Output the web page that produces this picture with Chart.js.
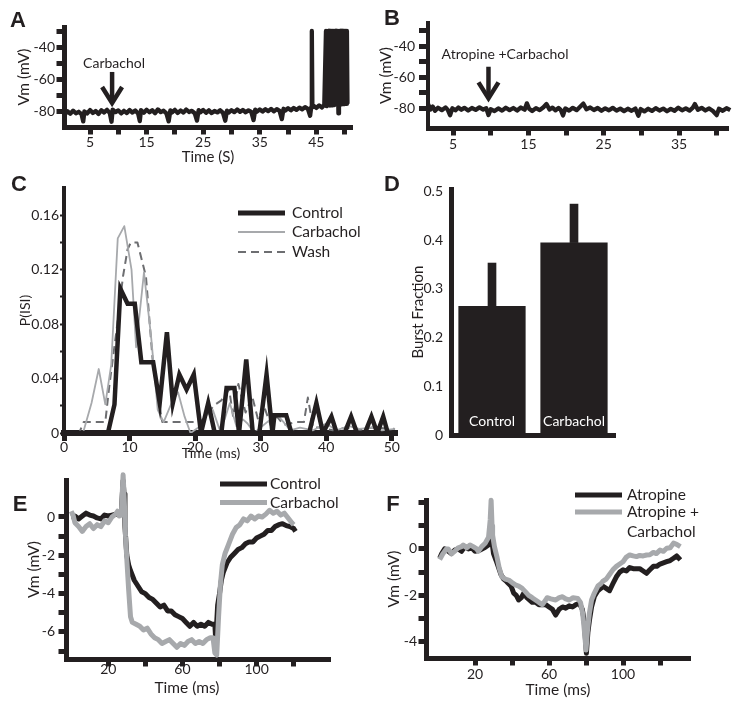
<!DOCTYPE html>
<html><head><meta charset="utf-8">
<script src="https://cdn.jsdelivr.net/npm/chart.js@4.4.1/dist/chart.umd.min.js"></script>
<style>
html,body{margin:0;padding:0;background:#fff;}
body{width:749px;height:707px;position:relative;overflow:hidden;}
canvas{position:absolute;left:0;top:0;}
.pl{position:absolute;font:bold 22px "Liberation Sans",Arial,sans-serif;line-height:1;transform:translate(-50%,-50%);color:#231f20;}
.tt{position:absolute;font-family:Lato,sans-serif;line-height:1;transform:translate(-50%,-50%);color:#231f20;white-space:nowrap;}
</style></head>
<body>
<canvas id="cA" width="749" height="707"></canvas>
<canvas id="cB" width="749" height="707"></canvas>
<canvas id="cC" width="749" height="707"></canvas>
<canvas id="cD" width="749" height="707"></canvas>
<canvas id="cE" width="749" height="707"></canvas>
<canvas id="cF" width="749" height="707"></canvas>
<div class="pl" style="left:18px;top:20px">A</div>
<div class="pl" style="left:392px;top:18px">B</div>
<div class="pl" style="left:19px;top:184px">C</div>
<div class="pl" style="left:392px;top:184px">D</div>
<div class="pl" style="left:20px;top:504px">E</div>
<div class="pl" style="left:393px;top:504px">F</div>
<div class="tt" style="left:211px;top:453px;font-size:14px">Time (ms)</div>
<div class="tt" style="left:187px;top:688px;font-size:15.5px">Time (ms)</div>
<script>
// ---------------- DATA ----------------
// Panel A: membrane potential trace (s, mV)
const aTime = [0.0,0.5,1.0,1.5,2.0,2.5,3.0,3.5,3.8,4.0,4.5,5.0,5.5,6.0,6.5,7.0,7.5,8.0,8.5,8.8,9.0,9.5,10.0,10.5,11.0,11.5,12.0,12.5,13.0,13.5,13.8,14.0,14.5,15.0,15.5,16.0,16.5,17.0,17.5,18.0,18.5,18.9,19.2,19.5,20.0,20.5,21.0,21.5,22.0,22.5,23.0,23.5,23.9,24.2,24.5,25.0,25.5,26.0,26.5,27.0,27.5,28.0,28.5,28.9,29.2,29.5,30.0,30.5,31.0,31.5,32.0,32.5,33.0,33.5,33.9,34.2,34.5,35.0,35.5,36.0,36.5,37.0,37.5,38.0,38.5,38.9,39.2,39.5,40.0,40.5,41.0,41.5,42.0,42.5,43.0,43.5,43.9,44.1,44.2,44.3,44.6,45.0,45.5,46.0,46.4,46.7,46.8,47.0,47.1,47.2,47.3,47.4,47.5,47.6,47.7,47.8,47.9,48.0,48.1,48.2,48.3,48.4,48.5,48.6,48.7,48.9,49.0,49.1,49.2,49.3,49.4,49.5,49.6,49.7,49.8,49.9,50.0,50.1,50.2,50.3,50.4,50.5];
const aVm = [-80.5,-81.8,-79.6,-81.2,-79.3,-80.9,-80.0,-81.5,-86.0,-79.8,-81.0,-78.9,-80.7,-79.5,-81.3,-79.0,-80.4,-78.8,-80.9,-86.2,-78.6,-80.2,-79.1,-81.0,-79.4,-80.8,-78.9,-80.5,-79.2,-81.1,-85.8,-79.0,-80.6,-78.7,-80.3,-79.0,-80.9,-78.5,-80.2,-79.3,-81.0,-86.0,-79.1,-80.4,-78.8,-80.7,-79.2,-80.5,-78.6,-80.1,-79.4,-80.9,-85.5,-79.0,-80.3,-78.9,-80.6,-79.1,-80.8,-79.5,-80.4,-79.0,-80.7,-85.6,-79.3,-80.5,-79.0,-80.2,-78.6,-80.0,-78.9,-80.3,-79.1,-80.1,-85.2,-78.7,-79.9,-78.5,-79.8,-78.4,-79.6,-78.2,-79.7,-78.3,-79.4,-84.6,-78.1,-79.2,-77.8,-79.0,-77.6,-78.8,-77.4,-78.5,-77.1,-78.2,-82.5,-77.0,-29.5,-77.2,-76.4,-77.6,-76.0,-77.3,-75.6,-29.5,-76.5,-75.5,-29.5,-75.8,-29.5,-76.2,-29.5,-75.5,-29.5,-76.0,-29.5,-75.4,-29.5,-75.8,-29.5,-75.2,-29.5,-75.6,-29.5,-81.0,-29.5,-75.3,-29.5,-75.0,-29.5,-75.4,-29.5,-74.9,-29.5,-75.2,-29.5,-74.8,-29.5,-75.1,-29.5,-75.0];
const aXTicks = [5,10,15,20,25,30,35,40,45,50];
const aXLabels = [5,15,25,35,45];
const aYTicks = [-80,-70,-60,-50,-40,-30];
const aYLabels = [-80,-60,-40];

// Panel B
const bTime = [1.7,2.0,2.3,2.6,3.0,3.5,4.0,4.3,4.6,4.9,5.3,5.7,6.1,6.5,7.0,7.5,8.0,8.5,9.0,9.4,9.7,10.0,10.5,11.0,11.5,12.0,12.5,13.0,13.5,14.0,14.5,14.8,15.1,15.5,16.0,16.5,17.0,17.4,17.8,18.2,18.6,19.0,19.3,19.6,19.9,20.4,20.9,21.4,21.8,22.3,22.7,23.2,23.7,24.2,24.7,25.2,25.7,26.2,26.7,27.2,27.7,28.2,28.7,29.2,29.6,29.9,30.4,30.9,31.4,31.9,32.4,32.9,33.4,33.9,34.4,34.9,35.4,35.9,36.4,36.8,37.1,37.5,38.0,38.5,39.0,39.5,40.0,40.3,40.8,41.3,41.8,42.1,42.4,42.8];
const bVm = [-77.5,-80.8,-78.9,-81.6,-79.6,-81.2,-79.4,-81.0,-84.5,-80.0,-81.3,-79.5,-80.9,-79.7,-81.4,-79.8,-81.0,-79.4,-80.8,-79.9,-84.3,-80.6,-81.8,-80.1,-81.5,-79.6,-81.2,-79.8,-81.4,-79.5,-80.9,-76.8,-80.3,-81.7,-79.9,-81.2,-79.3,-77.2,-80.8,-79.6,-81.3,-79.8,-81.0,-84.6,-80.1,-81.5,-79.7,-81.2,-79.3,-77.0,-80.6,-79.5,-81.1,-79.8,-81.6,-80.0,-81.3,-79.7,-81.5,-80.2,-81.8,-80.3,-81.6,-80.1,-84.8,-80.5,-82.0,-80.3,-81.7,-79.9,-81.4,-80.2,-81.9,-80.4,-81.6,-79.6,-81.3,-80.0,-81.5,-79.8,-77.3,-80.9,-79.7,-81.4,-80.1,-81.7,-84.4,-80.3,-81.6,-79.9,-81.2,-79.6,-77.4,-80.5];
const bXTicks = [5,10,15,20,25,30,35,40];
const bXLabels = [5,15,25,35];
const bYTicks = [-80,-70,-60,-50,-40,-30];
const bYLabels = [-80,-60,-40];

// Panel C: ISI distributions (ms, probability)
const cControlX = [0,6.7,7.7,8.6,9.7,10.8,11.8,13.6,14.6,15.7,16.6,17.6,18.7,19.8,20.9,22.0,23.0,24.0,24.8,26.0,26.7,27.8,28.8,29.8,30.9,31.8,32.1,33.9,34.7,37.4,38.5,39.5,40.8,41.6,42.8,43.8,44.7,45.9,46.9,47.8,48.7,49.4,50.5];
const cControlY = [0,0,0.021,0.106,0.095,0.095,0.052,0.052,0.022,0.074,0.022,0.043,0.032,0.043,0,0.022,0,0,0.033,0.033,0,0.054,0,0,0.043,0,0.013,0.013,0,0,0.022,0,0.012,0,0,0.012,0,0,0.012,0,0.012,0,0];
const cCarbX = [0,2.9,4.2,5.3,6.3,7.2,8.2,9.2,10.3,11.0,12.2,13.3,14.3,15.2,16.5,17.4,18.4,19.3,20.5,21.5,22.7,23.7,24.5,25.3,26.3,27.3,28.0,29.0,30.0,31.5,32.4,33.5,34.5,36.0,38.0,40.0,41.5,43.5,45.0,47.0,48.5,50.5];
const cCarbY = [0,0,0.022,0.047,0.021,0.05,0.143,0.152,0.12,0.063,0.118,0.07,0.017,0.008,0.023,0.03,0.012,0,0.004,0.012,0.017,0.003,0.01,0.022,0.005,0.01,0.007,0,0.004,0.01,0.014,0.008,0.002,0.004,0.002,0.007,0.002,0.005,0.003,0.004,0.002,0.003];
const cWashX = [0,2.3,3.0,6.3,6.9,8.0,9.0,9.7,10.2,11.2,12.5,13.6,14.6,15.0,20.7,21.7,22.8,24.0,25.2,25.8,26.6,27.7,28.7,29.6,30.5,31.5,32.5,33.5,35.4,36.6,37.2,38.0,39.0,41.0,43.0,45.0,47.0,50.5];
const cWashY = [0,0,0.008,0.008,0.034,0.075,0.115,0.135,0.14,0.14,0.115,0.049,0.019,0.008,0.008,0.012,0.02,0.024,0.032,0.012,0.036,0.015,0.027,0.01,0.02,0.006,0.012,0.006,0.008,0.008,0.026,0.004,0.004,0.002,0.004,0.002,0.004,0.003];
const cXTicks = [0,10,20,30,40,50];
const cXLabels = [0,10,20,30,40,50];
const cYTicks = [0,0.02,0.04,0.06,0.08,0.1,0.12,0.14,0.16];
const cYLabels = [0,0.04,0.08,0.12,0.16];

// Panel D: burst fraction
const dCategories = ['Control','Carbachol'];
const dMeans = [0.265, 0.395];
const dErrors = [0.088, 0.079];
const dYTicks = [0,0.1,0.2,0.3,0.4,0.5];
const dYLabels = [0,0.1,0.2,0.3,0.4,0.5];

// Panel E: averaged traces (ms, mV)
const eControlX = [0,2,4,6,8,10,12,14,16,18,20,22,24,26,27,28,28.5,29,30,31,32,34,36,38,40,42,44,46,48,50,52,54,56,58,60,62,64,66,68,70,72,74,76,77.5,78,78.5,79,80,81,82,84,86,88,90,92,94,96,98,100,102,104,106,108,110,112,114,116,118,120,121];
const eControlY = [0.0,0.05,-0.1,0.05,0.2,0.1,0.05,-0.05,-0.1,0.1,0.05,0.1,0.15,0.1,0.2,1.9,1.2,-0.5,-2.0,-2.5,-2.8,-3.3,-3.6,-3.9,-4.0,-4.2,-4.3,-4.5,-4.7,-4.6,-4.9,-4.9,-5.1,-5.2,-5.3,-5.5,-5.7,-5.5,-5.7,-5.6,-5.7,-5.5,-5.6,-5.6,-6.5,-5.5,-4.6,-4.0,-3.3,-2.9,-2.4,-2.1,-1.9,-1.7,-1.6,-1.4,-1.3,-1.3,-1.1,-1.0,-0.9,-0.7,-0.7,-0.5,-0.4,-0.35,-0.45,-0.5,-0.6,-0.75];
const eCarbX = [0,1,2,4,6,8,10,12,14,16,18,20,22,24,25,26,27,28,28.6,29.3,30,31,32,33,35,37,39,41,43,45,47,49,51,53,55,57,59,61,63,65,67,69,71,73,75,76.5,77.5,78.5,79.5,80.5,81.5,83,85,87,89,91,93,95,97,99,101,103,105,107,109,111,113,115,117,119,120];
const eCarbY = [0.3,0.1,-0.3,-0.5,-0.75,-0.5,-0.35,-0.6,-0.4,-0.5,-0.2,-0.3,0.0,0.15,0.3,0.05,0.1,2.2,1.0,-1.0,-2.2,-3.8,-5.2,-5.5,-5.6,-5.7,-5.9,-5.8,-6.1,-6.3,-6.4,-6.6,-6.5,-6.4,-6.6,-6.8,-6.6,-6.7,-6.5,-6.4,-6.6,-6.5,-6.6,-6.4,-6.3,-6.3,-7.1,-7.2,-5.2,-3.5,-2.5,-1.9,-1.4,-0.9,-0.55,-0.4,-0.1,-0.2,0.05,-0.1,0.05,0.0,0.15,0.35,0.2,0.3,0.1,0.2,-0.05,-0.3,-0.4];
const eXTicks = [20,40,60,80,100,120];
const eXLabels = [20,60,100];
const eYTicks = [-7,-6,-5,-4,-3,-2,-1,0];
const eYLabels = [-6,-4,-2,0];

// Panel F
const fAtrX = [0.9,2,3.6,5.5,7.3,9,10.9,12.7,14.5,16.4,18.2,20,22.7,25,27.3,28.4,29.2,30,31.4,32.7,34,35.5,37,38.2,39.5,40.9,42.3,43.6,45,46.4,48,50.9,52.7,54.5,56.4,58.2,60,61.8,63.6,65.5,67.3,69,70.9,72.7,74.5,76.4,78,79,80.2,81,81.8,83,84.5,86.4,88,89,90.9,92.7,94.5,96.4,98.2,100,101.8,103.6,105.5,107.3,109,110.9,112.7,114.5,116.4,118.2,120,121.8,123.6,125.5,127.3,129,131];
const fAtrY = [-0.4,-0.2,0.0,-0.1,-0.2,-0.05,0.0,-0.1,0.1,0.0,0.05,-0.1,-0.05,0.05,0.17,0.5,0.3,-0.2,-0.5,-0.8,-1.1,-1.3,-1.4,-1.5,-1.6,-1.9,-2.0,-2.2,-2.1,-1.9,-2.1,-2.3,-2.3,-2.4,-2.4,-2.4,-2.5,-2.6,-2.85,-2.6,-2.5,-2.55,-2.45,-2.5,-2.4,-2.35,-2.6,-3.1,-4.5,-3.6,-3.1,-2.5,-2.05,-1.8,-1.7,-1.6,-1.7,-1.8,-1.5,-1.2,-1.0,-0.9,-0.95,-0.8,-0.85,-0.85,-0.85,-0.95,-1.05,-0.9,-0.75,-0.75,-0.65,-0.6,-0.55,-0.5,-0.4,-0.3,-0.47];
const fAtrCarbX = [0.9,2.7,4.5,5.5,7.3,9,10.9,12.7,13.6,15.5,17.3,19,20.9,21.8,23.6,25.5,27.3,28.2,28.7,29.2,29.5,30.5,31.8,33,34.5,36.4,38.2,40,41.8,43.6,45.5,47.3,49,50.9,52.7,54.5,56.4,58.2,59,61,63.6,65.5,67.3,69,71,73,75.5,77,78.2,79.2,80,80.8,81.8,83,84.5,86.4,88,89,90.9,92.7,94.5,96.4,98.2,100,101.8,103.6,105.5,107.3,109,110.9,112.7,114.5,116.4,118,120,121.8,123.6,125.5,127.3,129,131];
const fAtrCarbY = [-0.45,-0.2,0.0,0.0,-0.2,-0.1,0.05,0.1,0.17,0.05,0.17,0.1,0.0,-0.1,0.1,0.25,0.5,1.25,2.1,1.0,0.6,0.1,-0.33,-0.8,-1.2,-1.3,-1.34,-1.45,-1.55,-1.6,-1.7,-1.85,-2.0,-2.1,-2.2,-2.3,-2.4,-2.2,-2.1,-2.15,-2.2,-2.1,-2.06,-2.15,-2.2,-2.1,-2.13,-2.3,-2.78,-3.6,-4.36,-3.5,-2.78,-2.2,-1.9,-1.6,-1.5,-1.4,-1.3,-1.1,-0.9,-0.75,-0.65,-0.55,-0.35,-0.26,-0.3,-0.33,-0.28,-0.3,-0.26,-0.25,-0.15,-0.2,-0.05,-0.1,0.03,0.05,0.25,0.2,0.1];
const fXTicks = [20,40,60,80,100,120];
const fXLabels = [20,60,100];
const fYTicks = [-4,-3,-2,-1,0,1,2];
const fYLabels = [-4,-2,0];

// ---------------- STYLE / HELPERS ----------------
const ink = '#231f20';
const lightGray = '#a7a9ac';
const midGray = '#6d6e71';
const FONT = 'Lato';
Chart.defaults.font.family = FONT;
Chart.defaults.color = ink;

function pairs(xs, ys){ return xs.map((x,i)=>({x:x, y:ys[i]})); }

// o.tl = visible tick-mark length beyond the axis line, o.pad = gap from chart edge to label (minus tl)
function sc(o){
  const bw = (o.bw!==undefined ? o.bw : 5);
  const tl = o.tl || 0;
  const tlEff = tl > 0 ? tl + bw/2 : 0;
  const padEff = (o.pad || 0) - (tl > 0 ? bw/2 : 0);
  const s = {
    type: o.type || 'linear',
    border:{display:true, color:ink, width:bw},
    grid:{display:true, drawOnChartArea:false, drawTicks:tl>0, tickLength:tlEff, tickWidth:(o.tw!==undefined?o.tw:5), tickColor:ink, color:ink},
    ticks:{display:!!o.labels, color:ink, font:{family:FONT,size:14,lineHeight:1}, padding:padEff, autoSkip:false, maxRotation:0, minRotation:0,
      callback:function(v){ return (o.labels && o.labels.includes(v)) ? String(v) : ''; }},
    title: o.title ? {display:true, text:o.title, color:ink, font:{family:FONT,size:o.tsize||15,lineHeight:1.2}, padding:o.tpad} : {display:false},
    afterFit: function(s){ if (s.isHorizontal()) s.height = o.size; else s.width = o.size; }
  };
  if (o.min!==undefined) s.min = o.min;
  if (o.max!==undefined) s.max = o.max;
  if (o.offset!==undefined) s.offset = o.offset;
  if (o.ticks) s.afterBuildTicks = function(k){ k.ticks = o.ticks.map(v=>({value:v})); };
  return s;
}
function opts(pad, x, y){
  return {responsive:false, animation:false, events:[], layout:{padding:pad},
    plugins:{legend:{display:false}, tooltip:{enabled:false}},
    scales:{x:x, y:y}};
}
function line(data, color, width, extra){
  return Object.assign({type:'line', data:data, borderColor:color, backgroundColor:color, borderWidth:width,
    pointRadius:0, tension:0, fill:false, borderJoinStyle:'round', borderCapStyle:'butt'}, extra||{});
}
// arrow + annotation text in data coordinates
function arrowNote(o){
  return {id:'arrowNote', afterDatasetsDraw(chart){
    const xs = chart.scales.x, ys = chart.scales.y, ctx = chart.ctx;
    const px = xs.getPixelForValue(o.x), p0 = ys.getPixelForValue(o.yTop), p1 = ys.getPixelForValue(o.yTip);
    ctx.save();
    ctx.strokeStyle = ink; ctx.lineWidth = 4.5; ctx.lineCap = 'butt'; ctx.lineJoin = 'miter';
    ctx.beginPath(); ctx.moveTo(px, p0); ctx.lineTo(px, p1 - 3); ctx.stroke();
    ctx.beginPath(); ctx.moveTo(px - 10, p1 - 16); ctx.lineTo(px, p1); ctx.lineTo(px + 10, p1 - 16); ctx.stroke();
    ctx.fillStyle = ink; ctx.font = '14px ' + FONT; ctx.textAlign = 'center'; ctx.textBaseline = 'middle';
    ctx.fillText(o.text, xs.getPixelForValue(o.tx), ys.getPixelForValue(o.ty));
    ctx.restore();
  }};
}
// legend drawn at a fixed spot, samples taken from dataset styles
function freeLegend(items, fontSize){
  return {id:'freeLegend', afterDraw(chart){
    const ctx = chart.ctx;
    ctx.save();
    items.forEach(it=>{
      const ds = chart.data.datasets[it.ds];
      const lh = it.lh || 0;
      ctx.strokeStyle = ds.borderColor; ctx.lineWidth = it.lw || ds.borderWidth;
      ctx.setLineDash(ds.borderDash || []); ctx.lineCap = 'butt';
      ctx.beginPath(); ctx.moveTo(it.x0, it.y); ctx.lineTo(it.x1, it.y); ctx.stroke();
      ctx.setLineDash([]);
      ctx.fillStyle = ink; ctx.font = fontSize + 'px ' + FONT; ctx.textAlign = 'left'; ctx.textBaseline = 'middle';
      String(ds.label).split('\n').forEach((t,k)=> ctx.fillText(t, it.tx, it.y + k*lh));
    });
    ctx.restore();
  }};
}
function barLabels(){
  return {id:'barLabels', afterDatasetsDraw(chart){
    const ctx = chart.ctx, meta = chart.getDatasetMeta(0), y0 = chart.scales.y.getPixelForValue(0);
    ctx.save(); ctx.fillStyle = '#ffffff'; ctx.font = '14px ' + FONT; ctx.textAlign = 'center'; ctx.textBaseline = 'middle';
    meta.data.forEach((bar,i)=> ctx.fillText(chart.data.labels[i], bar.x, y0 - 14));
    ctx.restore();
  }};
}

// ---------------- PANEL A ----------------
new Chart(document.getElementById('cA'), {
  type:'line',
  data:{datasets:[line(pairs(aTime,aVm), ink, 4.3)]},
  options: opts({left:10, top:27, right:397, bottom:540},
    sc({min:0.4, max:51.3, ticks:aXTicks, labels:aXLabels, tl:5, pad:3.5, size:40, title:'Time (S)', tsize:15, tpad:{top:0,bottom:1}}),
    sc({min:-89.5, max:-27, ticks:aYTicks, labels:aYLabels, tl:5, pad:4, size:54, title:'Vm (mV)', tsize:15.5, tpad:{top:5,bottom:0}})),
  plugins:[arrowNote({x:8.9, yTop:-55.1, yTip:-74.5, text:'Carbachol', tx:9.25, ty:-49.5})]
});

// ---------------- PANEL B ----------------
new Chart(document.getElementById('cB'), {
  type:'line',
  data:{datasets:[line(pairs(bTime,bVm), ink, 4.3, {clip:false})]},
  options: opts({left:375, top:23, right:21, bottom:554},
    sc({min:1.67, max:41.5, ticks:bXTicks, labels:bXLabels, tl:5, pad:4, size:25}),
    sc({min:-92.7, max:-25, ticks:bYTicks, labels:bYLabels, tl:7, pad:6, bw:4, size:53, title:'Vm (mV)', tsize:15.5, tpad:{top:2,bottom:0}})),
  plugins:[arrowNote({x:9.7, yTop:-53.2, yTip:-73.6, text:'Atropine +Carbachol', tx:11.9, ty:-45.6})]
});

// ---------------- PANEL C ----------------
new Chart(document.getElementById('cC'), {
  type:'line',
  data:{datasets:[
    line(pairs(cControlX,cControlY), ink, 4.5, {label:'Control', borderJoinStyle:'miter'}),
    line(pairs(cCarbX,cCarbY), lightGray, 1.8, {label:'Carbachol'}),
    line(pairs(cWashX,cWashY), midGray, 2, {label:'Wash', borderDash:[8,5]})
  ]},
  options: opts({left:10, top:188, right:352, bottom:244},
    sc({min:0, max:50.8, ticks:cXTicks, labels:cXLabels, tl:5, pad:2.5, bw:6, size:30}),
    sc({min:0, max:0.18, ticks:cYTicks, labels:cYLabels, tl:2, tw:2, pad:3, bw:4, size:54, title:'P(ISI)', tsize:14, tpad:{top:7,bottom:0}})),
  plugins:[freeLegend([
    {ds:0, x0:238, x1:285, y:213, tx:292, lw:5},
    {ds:1, x0:238, x1:285, y:232, tx:292, lw:2},
    {ds:2, x0:238, x1:285, y:252, tx:292, lw:2}
  ], 15.5)]
});

// ---------------- PANEL D ----------------
new Chart(document.getElementById('cD'), {
  type:'bar',
  data:{labels:dCategories, datasets:[
    {label:'Burst fraction', data:dMeans, backgroundColor:ink, borderWidth:0, barPercentage:0.82, categoryPercentage:1, grouped:false, order:1},
    {label:'Error', data:dMeans.map((m,i)=>[m, m + dErrors[i]]), backgroundColor:ink, borderWidth:0, barThickness:8, grouped:false, order:2}
  ]},
  options: opts({left:380, top:189, right:134, bottom:262},
    sc({type:'category', offset:true, tl:0, size:10}),
    sc({min:0, max:0.505, ticks:dYTicks, labels:dYLabels, tl:0, pad:8, size:71, title:'Burst Fraction', tsize:15, tpad:{top:29,bottom:0}})),
  plugins:[barLabels()]
});

// ---------------- PANEL E ----------------
new Chart(document.getElementById('cE'), {
  type:'line',
  data:{datasets:[
    line(pairs(eControlX,eControlY), ink, 5, {label:'Control', order:1, clip:false}),
    line(pairs(eCarbX,eCarbY), lightGray, 5, {label:'Carbachol', order:0, clip:false})
  ]},
  options: opts({left:10, top:480, right:419, bottom:8},
    sc({min:-2.8, max:139.6, ticks:eXTicks, labels:eXLabels, tl:5, pad:-2, size:40}),
    sc({min:-7.41, max:1.93, ticks:eYTicks, labels:eYLabels, tl:5, pad:6, size:56, title:'Vm (mV)', tsize:15.5, tpad:{top:15,bottom:0}})),
  plugins:[freeLegend([
    {ds:0, x0:220, x1:267, y:484, tx:270, lw:5},
    {ds:1, x0:220, x1:267, y:502.5, tx:270, lw:5}
  ], 15.5)]
});

// ---------------- PANEL F ----------------
new Chart(document.getElementById('cF'), {
  type:'line',
  data:{datasets:[
    line(pairs(fAtrX,fAtrY), ink, 5, {label:'Atropine', order:1, clip:false}),
    line(pairs(fAtrCarbX,fAtrCarbY), lightGray, 5, {label:'Atropine +\nCarbachol', order:0, clip:false})
  ]},
  options: opts({left:380, top:500, right:59, bottom:4},
    sc({min:-6.5, max:136.2, ticks:fXTicks, labels:fXLabels, tl:5, pad:4, size:45, title:'Time (ms)', tsize:15.5, tpad:{top:0,bottom:4}}),
    sc({min:-4.7, max:2.11, ticks:fYTicks, labels:fYLabels, tl:5, pad:4, size:46, title:'Vm (mV)', tsize:15.5, tpad:{top:5,bottom:0}})),
  plugins:[freeLegend([
    {ds:0, x0:575, x1:622, y:495, tx:627, lw:5},
    {ds:1, x0:575, x1:622, y:512, tx:627, lw:5, lh:20}
  ], 15.5)]
});
</script>
</body></html>
